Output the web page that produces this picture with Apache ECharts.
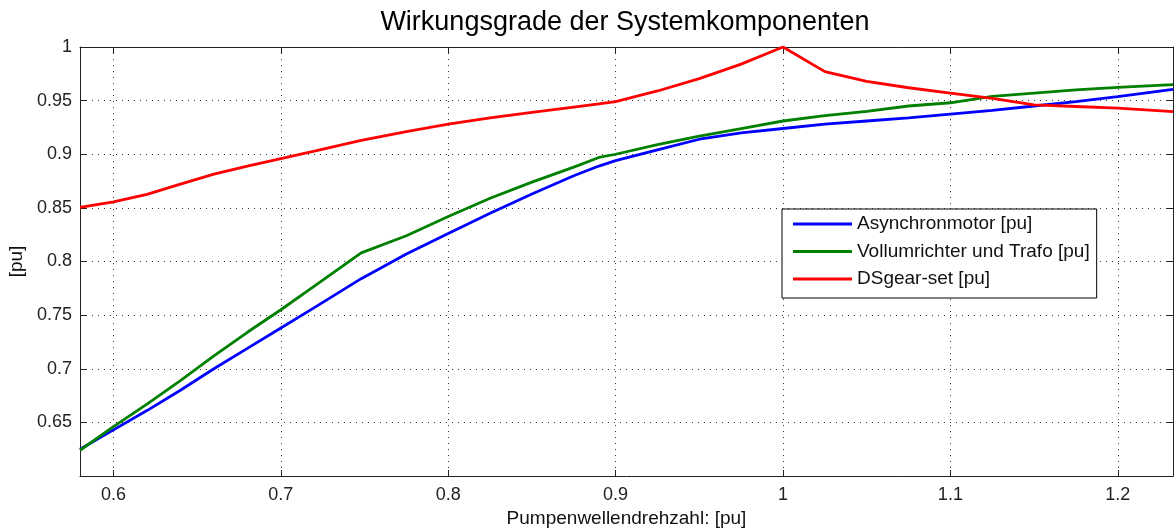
<!DOCTYPE html>
<html>
<head>
<meta charset="utf-8">
<title>Wirkungsgrade der Systemkomponenten</title>
<script src="https://cdn.jsdelivr.net/npm/echarts@6/dist/echarts.min.js"></script>
<style>
    html,body{margin:0;padding:0;background:#fff;}
    #echarts{width:1176px;height:530px;}
</style>
</head>
<body>
<div id="echarts"></div>
<script>
/*-------------------------Daten----------------------------*/
//Pumpenwellendrehzahl [pu]
var drehzahl = [0.58, 0.6, 0.62, 0.64, 0.66, 0.68, 0.7, 0.72, 0.748, 0.775, 0.8, 0.825, 0.85, 0.875, 0.89, 0.9,
    0.925, 0.95, 0.975, 1.0, 1.025, 1.05, 1.075, 1.1, 1.125, 1.15, 1.175, 1.2, 1.233];
//Asynchronmotor
var asynchronmotor = [0.625, 0.643, 0.661, 0.680, 0.700, 0.719, 0.738, 0.757, 0.784, 0.807, 0.826, 0.845, 0.863, 0.880, 0.889, 0.894,
    0.904, 0.914, 0.920, 0.924, 0.928, 0.931, 0.934, 0.9375, 0.941, 0.945, 0.949, 0.9537, 0.9605];
//Vollumrichter und Trafo
var umrichter = [0.624, 0.646, 0.667, 0.689, 0.712, 0.734, 0.755, 0.777, 0.808, 0.824, 0.842, 0.859, 0.874, 0.888, 0.897, 0.900,
    0.909, 0.917, 0.924, 0.931, 0.936, 0.940, 0.945, 0.948, 0.954, 0.957, 0.960, 0.9624, 0.965];
//DSgear-set
var dsgear = [0.8505, 0.8557, 0.8626, 0.8722, 0.8815, 0.889, 0.896, 0.903, 0.913, 0.921, 0.928, 0.934, 0.939, 0.944, 0.947, 0.949,
    0.959, 0.9705, 0.984, 1.0, 0.977, 0.968, 0.962, 0.957, 0.952, 0.946, 0.9445, 0.943, 0.9397];
//Achsenbeschriftung
var xTicks = [0.6, 0.7, 0.8, 0.9, 1.0, 1.1, 1.2];
var yTicks = [0.65, 0.7, 0.75, 0.8, 0.85, 0.9, 0.95, 1];
var seriesNames = ['Asynchronmotor [pu]', 'Vollumrichter und Trafo [pu]', 'DSgear-set [pu]'];
var seriesColors = ['#0000ff', '#008000', '#ff0000'];

function pairs(ys){
    var out = [];
    for(var i=0;i<drehzahl.length;i++){
        out.push([drehzahl[i], ys[i]]);
    }
    return out;
}
function fmt(v){
    return String(+(+v).toFixed(2));
}

/*------------------------echarts----------------------------*/
var myChart = echarts.init(document.getElementById('echarts'));
var fontFam = '"Liberation Sans", Arial, sans-serif';
var gridDots = {color:'#333', width:1, type:[1,5]};

var xBase = {
    type:'value',
    min:0.58,
    max:1.233,
    axisLine:{show:true, onZero:false, lineStyle:{color:'#222', width:1}},
    axisTick:{show:true, inside:true, length:6, customValues:xTicks, lineStyle:{color:'#222'}},
    axisLabel:{customValues:xTicks, formatter:fmt, color:'#222', fontSize:18, fontFamily:fontFam, margin:10},
    splitLine:{show:true, lineStyle:gridDots}
};
var yBase = {
    type:'value',
    min:0.6,
    max:1,
    axisLine:{show:true, onZero:false, lineStyle:{color:'#222', width:1}},
    axisTick:{show:true, inside:true, length:6, customValues:yTicks, lineStyle:{color:'#222'}},
    axisLabel:{customValues:yTicks, formatter:fmt, color:'#222', fontSize:18, fontFamily:fontFam, margin:8},
    splitLine:{show:true, lineStyle:gridDots}
};

var option = {
    backgroundColor:'#fff',
    animation:false,
    title:{
        text:'Wirkungsgrade der Systemkomponenten',
        left:620,
        textAlign:'center',
        top:4,
        textStyle:{color:'#000', fontFamily:fontFam, fontSize:27, fontWeight:'normal'}
    },
    legend:{
        data:seriesNames,
        orient:'vertical',
        left:782,
        top:209,
        padding:[5,7,9,11],
        itemGap:7.5,
        itemWidth:59,
        itemHeight:3,
        icon:'rect',
        backgroundColor:'#fff',
        borderColor:'#000',
        borderWidth:1,
        borderRadius:0,
        textStyle:{color:'#111', fontFamily:fontFam, fontSize:19, lineHeight:20}
    },
    grid:{left:80, top:47, right:3, bottom:54, outerBoundsMode:'none'},
    xAxis:[],
    yAxis:[],
    series:[]
};
option.xAxis = [
    Object.assign({}, xBase, {
        position:'bottom',
        name:'Pumpenwellendrehzahl: [pu]',
        nameLocation:'middle',
        nameGap:33,
        nameTextStyle:{color:'#111', fontFamily:fontFam, fontSize:19}
    }),
    Object.assign({}, xBase, {
        position:'top',
        axisLabel:{show:false},
        splitLine:{show:false}
    })
];
option.yAxis = [
    Object.assign({}, yBase, {
        position:'left',
        name:'[pu]',
        nameLocation:'middle',
        nameGap:53,
        nameRotate:90,
        nameTextStyle:{color:'#111', fontFamily:fontFam, fontSize:19}
    }),
    Object.assign({}, yBase, {
        position:'right',
        axisLabel:{show:false},
        splitLine:{show:false}
    })
];
var allData = [asynchronmotor, umrichter, dsgear];
for(var i=0;i<allData.length;i++){
    option.series.push({
        name:seriesNames[i],
        type:'line',
        xAxisIndex:0,
        yAxisIndex:0,
        data:pairs(allData[i]),
        symbol:'none',
        smooth:false,
        color:seriesColors[i],
        lineStyle:{color:seriesColors[i], width:2.8},
        z:2+i
    });
}
myChart.setOption(option);
</script>
</body>
</html>
